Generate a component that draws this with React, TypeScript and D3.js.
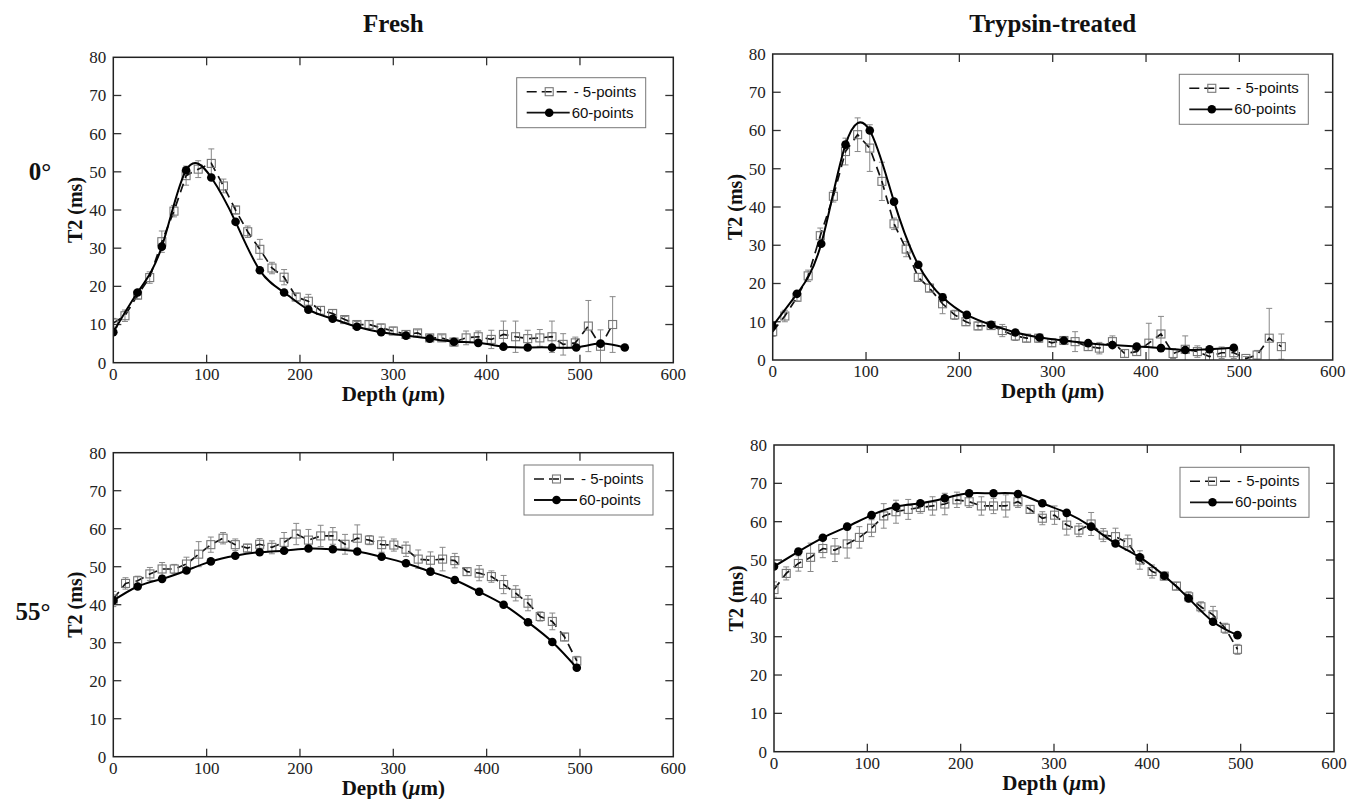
import React from 'react';
import * as d3 from 'd3';

// ---------- data ----------
const X_TICKS = [0, 100, 200, 300, 400, 500, 600];
const Y_TICKS = [0, 10, 20, 30, 40, 50, 60, 70, 80];
const COL_TITLES = ['Fresh', 'Trypsin-treated'];
const ROW_LABELS = ['0°', '55°'];
const LEGEND_LABELS = ['5-points', '60-points'];

// Fresh, 0°
const FRESH0_5_X = [0, 12.5, 26, 39, 52, 65, 78, 91, 105, 118, 131, 144, 157, 170, 183, 196, 209, 222, 235, 248, 261, 274, 287, 300, 313.6, 326, 339, 352, 365, 378, 391, 405, 418, 431, 444, 457, 470, 482, 495, 509, 522, 535];
const FRESH0_5_Y = [10.4, 12.3, 17.7, 22.3, 31.7, 39.7, 49.0, 50.7, 52.2, 46.3, 40.0, 34.3, 29.7, 24.8, 22.4, 17.2, 16.1, 13.7, 12.9, 11.3, 10.0, 10.0, 9.1, 8.3, 7.4, 7.8, 6.5, 6.5, 5.4, 6.5, 6.8, 6.1, 7.4, 6.8, 6.3, 6.5, 6.8, 4.8, 5.2, 9.6, 4.3, 10.0];
const FRESH0_5_ERR = [1.2, 1.5, 1.0, 1.5, 2.8, 1.5, 2.5, 2.2, 3.8, 1.8, 1.0, 1.5, 2.6, 1.5, 2.0, 1.0, 1.8, 1.0, 1.0, 0.8, 0.8, 1.0, 1.0, 1.0, 1.0, 0.8, 0.8, 0.8, 1.0, 1.8, 1.5, 2.4, 3.5, 4.1, 2.2, 2.2, 4.1, 2.8, 1.5, 6.7, 4.3, 7.3];
const FRESH0_60_X = [0, 26, 52, 78, 105, 131, 157, 183, 209, 235, 261, 287, 313.6, 339, 365, 391, 418, 444, 470, 496, 522, 548];
const FRESH0_60_Y = [8.0, 18.4, 30.4, 50.4, 48.5, 36.9, 24.2, 18.4, 13.9, 11.5, 9.4, 8.0, 7.1, 6.3, 5.5, 5.2, 4.2, 4.0, 4.0, 4.0, 5.0, 4.0];

// Trypsin-treated, 0°
const TRYP0_5_X = [0, 13, 26, 38, 51, 65, 78, 91, 104, 117, 130, 143, 156, 168, 182, 195, 207, 220, 234, 246, 260, 272, 285, 299, 312, 324, 338, 350, 364, 377, 390, 403, 416, 429, 442, 455, 468, 481, 494, 507, 519, 532, 545];
const TRYP0_5_Y = [7.4, 11.5, 16.4, 22.0, 32.5, 42.8, 54.5, 58.9, 55.4, 46.7, 35.6, 29.0, 21.6, 18.8, 14.7, 11.8, 10.0, 8.9, 9.0, 7.7, 6.3, 5.7, 5.7, 4.5, 5.1, 4.8, 3.5, 3.1, 4.8, 1.7, 2.2, 4.4, 6.8, 1.7, 2.8, 2.2, 0.9, 1.9, 1.9, 0.4, 1.3, 5.7, 3.5];
const TRYP0_5_ERR = [1.2, 1.5, 1.0, 1.5, 2.0, 1.5, 3.5, 4.4, 6.1, 5.0, 1.5, 2.0, 1.0, 1.0, 2.6, 1.2, 1.0, 1.0, 1.0, 1.6, 1.2, 1.0, 1.0, 1.0, 1.0, 2.6, 1.0, 1.5, 1.5, 1.0, 1.0, 5.2, 4.6, 1.3, 3.5, 1.5, 1.0, 1.5, 1.5, 0.5, 1.2, 7.8, 3.3];
const TRYP0_60_X = [0, 26, 52, 78, 104, 130, 156, 182, 208, 234, 260, 286, 312, 338, 364, 390, 416, 442, 468, 494];
const TRYP0_60_Y = [8.9, 17.3, 30.4, 56.3, 60.0, 41.4, 24.9, 16.4, 11.8, 9.2, 7.2, 5.9, 5.1, 4.4, 3.9, 3.5, 3.1, 2.6, 2.8, 3.2];

// Fresh, 55°
const FRESH55_5_X = [0, 13.1, 26.1, 39.2, 52.3, 65.3, 78.4, 91.5, 104.5, 117.6, 130.7, 143.8, 156.8, 169.9, 183, 196, 209.1, 222.2, 235.2, 248.3, 261.4, 274.4, 287.5, 300.6, 313.6, 326.7, 339.8, 352.8, 365.9, 379, 392, 405.1, 418.2, 431.2, 444.3, 457.4, 470.4, 483.5, 496.6];
const FRESH55_5_Y = [41.5, 45.6, 46.3, 48.1, 49.4, 49.4, 50.7, 53.3, 55.8, 57.5, 55.8, 54.9, 55.9, 55.1, 56.4, 58.6, 57.0, 58.1, 58.1, 55.9, 57.5, 57.0, 55.8, 55.7, 54.6, 52.0, 51.7, 52.0, 51.6, 48.7, 48.3, 47.4, 45.3, 43.0, 40.4, 36.9, 35.6, 31.5, 25.2];
const FRESH55_5_ERR = [2.0, 1.5, 1.2, 1.7, 1.7, 1.2, 1.8, 3.3, 2.0, 1.5, 1.5, 1.0, 1.5, 1.7, 2.6, 2.8, 2.8, 2.8, 2.2, 2.6, 3.5, 1.2, 2.0, 1.6, 1.9, 2.4, 2.2, 3.1, 1.9, 1.0, 2.0, 1.5, 2.4, 2.0, 2.0, 1.2, 2.2, 1.0, 1.2];
const FRESH55_60_X = [0, 26.1, 52.3, 78.4, 104.5, 130.7, 156.8, 183, 209.1, 235.2, 261.4, 287.5, 313.6, 339.8, 365.9, 392, 418.2, 444.3, 470.4, 496.6];
const FRESH55_60_Y = [41.1, 44.8, 46.8, 49.0, 51.4, 52.9, 53.8, 54.2, 54.8, 54.6, 54.0, 52.6, 50.9, 48.7, 46.5, 43.4, 40.0, 35.4, 30.2, 23.4];

// Trypsin-treated, 55°
const TRYP55_5_X = [0, 13.1, 26.1, 39.2, 52.3, 65.3, 78.4, 91.5, 104.5, 117.6, 130.7, 143.8, 156.8, 169.9, 183, 196, 209.1, 222.2, 235.2, 248.3, 261.4, 274.4, 287.5, 300.6, 313.6, 326.7, 339.8, 352.8, 365.9, 379, 392, 405.1, 418.2, 431.2, 444.3, 457.4, 470.4, 483.5, 496.6];
const TRYP55_5_Y = [42.3, 46.5, 49.1, 50.7, 53.0, 52.6, 54.2, 55.9, 58.3, 61.5, 62.6, 63.2, 63.7, 64.1, 64.6, 65.7, 65.2, 64.1, 64.1, 64.1, 65.2, 63.2, 60.9, 61.7, 59.1, 57.8, 59.4, 56.5, 56.1, 54.5, 50.0, 47.0, 45.8, 43.2, 40.4, 37.8, 35.7, 32.2, 26.7];
const TRYP55_5_ERR = [2.0, 1.7, 2.0, 3.7, 2.4, 3.0, 3.7, 2.8, 2.2, 3.2, 3.0, 2.6, 1.5, 2.4, 2.8, 2.0, 1.5, 2.4, 2.0, 2.9, 1.5, 1.0, 1.7, 2.4, 2.6, 1.7, 3.0, 1.7, 2.2, 2.0, 2.4, 1.7, 1.0, 1.0, 1.3, 1.3, 2.2, 1.3, 1.3];
const TRYP55_60_X = [0, 26.1, 52.3, 78.4, 104.5, 130.7, 156.8, 183, 209.1, 235.2, 261.4, 287.5, 313.6, 339.8, 365.9, 392, 418.2, 444.3, 470.4, 496.6];
const TRYP55_60_Y = [48.3, 52.2, 55.8, 58.7, 61.7, 63.9, 64.8, 66.1, 67.4, 67.4, 67.2, 64.8, 62.3, 58.7, 54.3, 50.7, 45.9, 40.0, 33.9, 30.4];

// ---------- layout ----------
const W = 1361;
const H = 799;
const SERIF = '"Liberation Serif", "Times New Roman", serif';
const SANS = '"Liberation Sans", Arial, sans-serif';

type Frame = { l: number; r: number; t: number; b: number };

const PANELS = [
  { id: 'p0', f: { l: 113.3, r: 673.3, t: 57.3, b: 362.7 }, lg: { x: 516.7, y: 77.7 }, x5: FRESH0_5_X, y5: FRESH0_5_Y, e5: FRESH0_5_ERR, x60: FRESH0_60_X, y60: FRESH0_60_Y },
  { id: 'p1', f: { l: 772.7, r: 1332.7, t: 54, b: 360 }, lg: { x: 1179.3, y: 74.3 }, x5: TRYP0_5_X, y5: TRYP0_5_Y, e5: TRYP0_5_ERR, x60: TRYP0_60_X, y60: TRYP0_60_Y },
  { id: 'p2', f: { l: 113.3, r: 673.3, t: 452.7, b: 756.7 }, lg: { x: 524, y: 465 }, x5: FRESH55_5_X, y5: FRESH55_5_Y, e5: FRESH55_5_ERR, x60: FRESH55_60_X, y60: FRESH55_60_Y },
  { id: 'p3', f: { l: 774, r: 1334, t: 445, b: 751.7 }, lg: { x: 1180, y: 467.3 }, x5: TRYP55_5_X, y5: TRYP55_5_Y, e5: TRYP55_5_ERR, x60: TRYP55_60_X, y60: TRYP55_60_Y },
];

const SQ = 8;
const TICK = 8;

function Legend({ x, y }: { x: number; y: number }) {
  const r1 = y + 14;
  const r2 = y + 35;
  return (
    <g>
      <rect x={x} y={y} width={129} height={50} fill="#fff" stroke="#777" strokeWidth={1} />
      <line x1={x + 10} x2={x + 52} y1={r1} y2={r1} stroke="#111" strokeWidth={1.6} strokeDasharray="10,5" />
      <rect x={x + 32.5 - SQ / 2} y={r1 - SQ / 2} width={SQ} height={SQ} fill="none" stroke="#777" strokeWidth={1.1} />
      <text x={x + 57} y={r1 + 5} fontFamily={SANS} fontSize={15} fill="#111">{'- ' + LEGEND_LABELS[0]}</text>
      <line x1={x + 10} x2={x + 53} y1={r2} y2={r2} stroke="#111" strokeWidth={1.8} />
      <circle cx={x + 32.5} cy={r2} r={4.3} fill="#000" />
      <text x={x + 55} y={r2 + 5} fontFamily={SANS} fontSize={15} fill="#111">{LEGEND_LABELS[1]}</text>
    </g>
  );
}

function Panel(p: any) {
  const f: Frame = p.f;
  const x = d3.scaleLinear().domain([0, 600]).range([f.l, f.r]);
  const y = d3.scaleLinear().domain([0, 80]).range([f.b, f.t]);
  const d5: [number, number][] = p.x5.map((v: number, i: number) => [v, p.y5[i]]);
  const d60: [number, number][] = p.x60.map((v: number, i: number) => [v, p.y60[i]]);
  const line5 = d3.line<[number, number]>().x(d => x(d[0])).y(d => y(d[1]))(d5) || '';
  const line60 = d3.line<[number, number]>().curve(d3.curveNatural).x(d => x(d[0])).y(d => y(d[1]))(d60) || '';
  const cy = (f.t + f.b) / 2;
  const cx = (f.l + f.r) / 2;
  return (
    <g>
      <defs>
        <clipPath id={'clip-' + p.id}>
          <rect x={f.l} y={f.t} width={f.r - f.l} height={f.b - f.t} />
        </clipPath>
      </defs>
      {/* ticks */}
      {X_TICKS.slice(1, -1).map(t => (
        <g key={'xt' + t}>
          <line x1={x(t)} x2={x(t)} y1={f.b} y2={f.b - TICK} stroke="#333" strokeWidth={1.3} />
          <line x1={x(t)} x2={x(t)} y1={f.t} y2={f.t + TICK} stroke="#333" strokeWidth={1.3} />
        </g>
      ))}
      {Y_TICKS.slice(1, -1).map(t => (
        <g key={'yt' + t}>
          <line x1={f.l} x2={f.l + TICK} y1={y(t)} y2={y(t)} stroke="#333" strokeWidth={1.3} />
          <line x1={f.r} x2={f.r - TICK} y1={y(t)} y2={y(t)} stroke="#333" strokeWidth={1.3} />
        </g>
      ))}
      {X_TICKS.map(t => (
        <text key={'xl' + t} x={x(t)} y={f.b + 17} textAnchor="middle" fontFamily={SERIF} fontSize={17} fill="#222">{t}</text>
      ))}
      {Y_TICKS.map(t => (
        <text key={'yl' + t} x={f.l - 7} y={y(t)} dy="0.35em" textAnchor="end" fontFamily={SERIF} fontSize={17} fill="#222">{t}</text>
      ))}
      {/* data */}
      <g clipPath={`url(#clip-${p.id})`}>
        {d5.map((d, i) => {
          const e = p.e5[i];
          const px = x(d[0]);
          return (
            <g key={'e' + i} stroke="#888" strokeWidth={1}>
              <line x1={px} x2={px} y1={y(d[1] + e)} y2={y(d[1] - e)} />
              <line x1={px - 3} x2={px + 3} y1={y(d[1] + e)} y2={y(d[1] + e)} />
              <line x1={px - 3} x2={px + 3} y1={y(d[1] - e)} y2={y(d[1] - e)} />
            </g>
          );
        })}
        <path d={line5} fill="none" stroke="#111" strokeWidth={1.7} strokeDasharray="9,6" />
        {d5.map((d, i) => (
          <rect key={'s' + i} x={x(d[0]) - SQ / 2} y={y(d[1]) - SQ / 2} width={SQ} height={SQ} fill="none" stroke="#777" strokeWidth={1.1} />
        ))}
        <path d={line60} fill="none" stroke="#000" strokeWidth={2} />
        {d60.map((d, i) => (
          <circle key={'c' + i} cx={x(d[0])} cy={y(d[1])} r={4.3} fill="#000" />
        ))}
      </g>
      <rect x={f.l} y={f.t} width={f.r - f.l} height={f.b - f.t} fill="none" stroke="#222" strokeWidth={1.5} />
      <Legend x={p.lg.x} y={p.lg.y} />
      {/* axis titles */}
      <text x={cx} y={f.b + 38} textAnchor="middle" fontFamily={SERIF} fontSize={21} fontWeight="bold" fill="#111">
        Depth (<tspan fontStyle="italic">μ</tspan>m)
      </text>
      <text transform={`translate(${f.l - 38},${cy}) rotate(-90)`} dy="0.35em" textAnchor="middle" fontFamily={SERIF} fontSize={20} fontWeight="bold" fill="#111">
        T2 (ms)
      </text>
    </g>
  );
}

export default function App() {
  return (
    <svg width={W} height={H} style={{ position: 'absolute', left: 0, top: 0, background: '#fff' }}>
      <rect width={W} height={H} fill="#fff" />
      <text x={393.3} y={32} textAnchor="middle" fontFamily={SERIF} fontSize={25} fontWeight="bold" fill="#111">{COL_TITLES[0]}</text>
      <text x={1052.7} y={32} textAnchor="middle" fontFamily={SERIF} fontSize={25} fontWeight="bold" fill="#111">{COL_TITLES[1]}</text>
      <text x={40} y={180} textAnchor="middle" fontFamily={SERIF} fontSize={25} fontWeight="bold" fill="#111">{ROW_LABELS[0]}</text>
      <text x={33} y={620} textAnchor="middle" fontFamily={SERIF} fontSize={25} fontWeight="bold" fill="#111">{ROW_LABELS[1]}</text>
      {PANELS.map(p => (
        <Panel key={p.id} {...p} />
      ))}
    </svg>
  );
}
